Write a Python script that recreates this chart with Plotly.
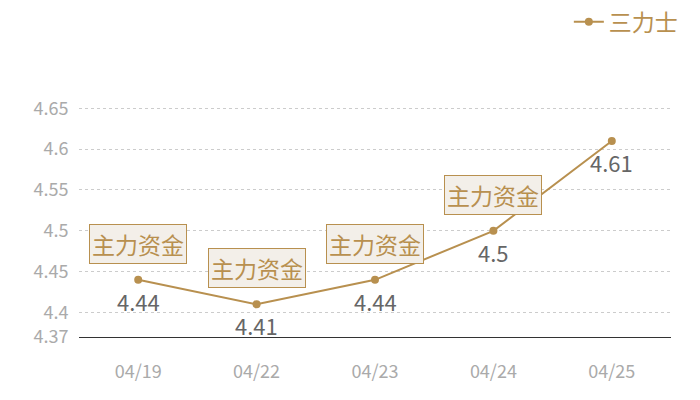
import plotly.graph_objects as go

dates = ["04/19", "04/22", "04/23", "04/24", "04/25"]
prices = [4.44, 4.41, 4.44, 4.50, 4.61]
value_labels = ["4.44", "4.41", "4.44", "4.5", "4.61"]
flag_dates = ["04/19", "04/22", "04/23", "04/24"]
flag_prices = [4.44, 4.41, 4.44, 4.50]
flag_text = "主力资金"
series_name = "三力士"
y_tickvals = [4.37, 4.4, 4.45, 4.5, 4.55, 4.6, 4.65, 4.66]
y_ticktext = ["4.37", "4.4", "4.45", "4.5", "4.55", "4.6", "4.65", ""]

gold = "#b8904f"
cjk = "Noto Sans CJK SC"

fig = go.Figure()
fig.add_trace(go.Scatter(
    x=dates, y=prices, name=series_name,
    mode="lines+markers",
    line=dict(color=gold, width=2),
    marker=dict(color=gold, size=8),
))

for d, p, t in zip(dates, prices, value_labels):
    fig.add_annotation(
        x=d, y=p, xref="x", yref="y", text=t, showarrow=False,
        yanchor="top", yshift=-3,
        font=dict(size=22, color="#666666", family=cjk),
    )

for d, p in zip(flag_dates, flag_prices):
    fig.add_annotation(
        x=d, y=p, xref="x", yref="y", text=flag_text, showarrow=False,
        yanchor="bottom", yshift=16,
        font=dict(size=23, color=gold, family=cjk),
        bgcolor="#f3efe9", bordercolor=gold, borderwidth=1, borderpad=2,
    )

fig.update_layout(
    width=692, height=392,
    margin=dict(l=71, r=29, t=92, b=63, autoexpand=False),
    paper_bgcolor="white", plot_bgcolor="white",
    font=dict(family=cjk),
    showlegend=True,
    legend=dict(x=1.02, y=1.33, xanchor="right", yanchor="middle",
                font=dict(size=23, color=gold, family=cjk),
                bgcolor="rgba(0,0,0,0)", itemwidth=30),
    xaxis=dict(
        type="category", showgrid=False, showline=True, linecolor="#333333", linewidth=1,
        ticks="outside", ticklen=18, tickcolor="rgba(0,0,0,0)",
        tickfont=dict(size=18, color="#aaaaaa", family=cjk),
        range=[-0.5, 4.5], fixedrange=True, automargin=False,
    ),
    yaxis=dict(
        range=[4.37, 4.6601], tickmode="array", tickvals=y_tickvals, ticktext=y_ticktext,
        showgrid=True, gridcolor="#cccccc", griddash="dot", gridwidth=1,
        zeroline=False, showline=False, automargin=False,
        ticks="outside", ticklen=6, tickcolor="rgba(0,0,0,0)",
        tickfont=dict(size=18, color="#aaaaaa", family=cjk),
    ),
)

fig.write_html("out.html")
